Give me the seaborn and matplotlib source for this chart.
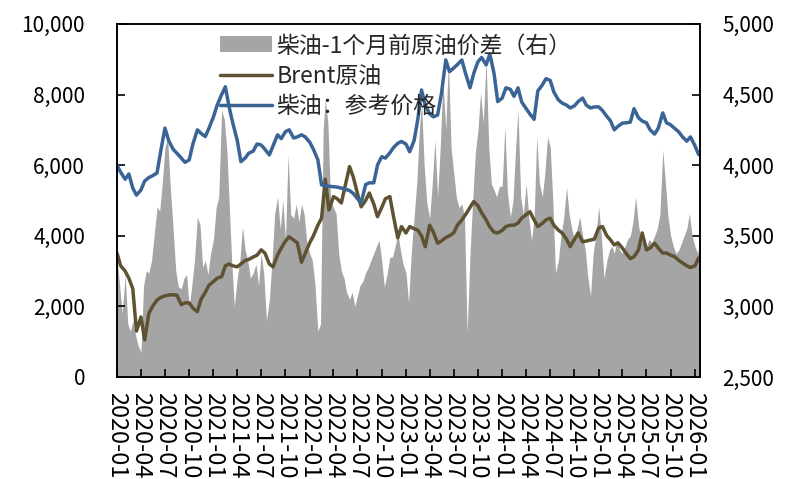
import pandas as pd
import matplotlib
matplotlib.use('Agg')
import matplotlib.pyplot as plt
import matplotlib.dates as mdates
import matplotlib.ticker as mticker
from matplotlib.patches import Patch
from matplotlib.lines import Line2D
import seaborn as sns

sns.set_theme(style='ticks')
plt.rcParams['font.family'] = ['Noto Sans CJK SC', 'DejaVu Sans']
plt.rcParams['axes.unicode_minus'] = False

BLUE = '#3A6496'
BROWN = '#5E5232'
GREY = '#A5A5A5'

label_spread = '柴油-1个月前原油价差（右）'
label_brent = 'Brent原油'
label_diesel = '柴油：参考价格'

## semi-monthly (1st, 15th) values, left axis
diesel = [
    6000, 5800, 5600, 5750, 5350, 5150, 5300, 5550, 5650, 5700, 5780, 6400, 7050, 6700, 6450, 6340, 6200, 6080, 6150, 6600, 7000, 6900, 6810, 7050,  # 2020
    7370, 7700, 8000, 8220, 7660, 7200, 6710, 6100, 6200, 6340, 6400, 6600, 6570, 6450, 6290, 6550, 6860, 6750, 6950, 7000, 6770, 6800, 6860, 6800,  # 2021
    6650, 6450, 6150, 5440, 5420, 5400, 5390, 5380, 5350, 5320, 5280, 5200, 5050, 4930, 5450, 5500, 5500, 6000, 6240, 6200, 6350, 6500, 6620, 6670,  # 2022
    6600, 6380, 6700, 7300, 8130, 7700, 7450, 7370, 7420, 8000, 8980, 8650, 8750, 8850, 8980, 8600, 8190, 8600, 8930, 9050, 8840, 9150, 8600, 7800,  # 2023
    7900, 8190, 8150, 7950, 8190, 7790, 7600, 7450, 7300, 8100, 8270, 8450, 8400, 8070, 7850, 7760, 7700, 7620, 7680, 7800, 7900, 7700, 7620, 7650,  # 2024
    7650, 7550, 7380, 7250, 7000, 7100, 7190, 7200, 7220, 7600, 7340, 7250, 7200, 7000, 6880, 7050, 7480, 7200, 7140, 7050, 6940, 6800, 6680, 6800,  # 2025
    6550, 6300,  # 2026
]
brent = [
    3510, 3150, 3000, 2800, 2500, 1300, 1700, 1050, 1800, 2000, 2180, 2250, 2300, 2320, 2330, 2320, 2050, 2100, 2100, 1950, 1850, 2200, 2400, 2600,  # 2020
    2700, 2800, 2840, 3150, 3200, 3150, 3120, 3200, 3300, 3330, 3400, 3450, 3600, 3510, 3200, 3120, 3450, 3650, 3850, 3970, 3880, 3800, 3250, 3500,  # 2021
    3800, 4000, 4300, 4500, 5600, 4730, 5110, 5050, 4930, 5400, 5960, 5670, 5200, 4820, 5000, 5210, 4900, 4540, 4800, 5050, 5110, 4540, 3940, 4260,  # 2022
    4080, 4260, 4200, 4160, 4000, 3690, 4300, 4100, 3790, 3850, 3950, 4000, 4080, 4300, 4450, 4600, 4800, 4970, 4850, 4650, 4450, 4250, 4100, 4080,  # 2023
    4150, 4260, 4300, 4300, 4360, 4500, 4600, 4680, 4450, 4260, 4350, 4450, 4500, 4300, 4160, 4080, 3900, 3690, 3900, 4080, 3830, 3850, 3880, 3900,  # 2024
    4220, 4260, 4000, 3880, 3740, 3800, 3650, 3500, 3350, 3410, 3600, 4080, 3600, 3650, 3790, 3650, 3510, 3510, 3450, 3410, 3300, 3230, 3150, 3100,  # 2025
    3150, 3370,  # 2026
]

## spread, 1st / 11th / 21st of each month, right axis
spread = [
    3350, 3150, 2950, 3225, 2875, 2825, 2900, 2800, 2725, 2675, 3150, 3250,  # 2020 Jan-Apr
    3238, 3325, 3500, 3705, 3675, 3875, 4125, 4200, 3850, 3550, 3250, 3140,  # 2020 May-Aug
    3125, 3200, 3225, 3000, 3150, 3325, 3633, 3575, 3275, 3325, 3225, 3375,  # 2020 Sep-Dec
    3475, 3700, 3775, 4390, 4325, 4100, 3750, 3325, 3000, 3200, 3325, 3563,  # 2021 Jan-Apr
    3400, 3325, 3200, 3238, 3300, 3150, 3375, 3225, 2900, 3050, 3325, 3650,  # 2021 May-Aug
    3775, 3550, 3750, 3475, 4075, 3650, 3625, 3725, 3600, 3725, 3650, 3450,  # 2021 Sep-Dec
    3375, 3325, 3150, 2825, 2875, 4250, 4463, 4300, 3750, 3700, 3658, 3375,  # 2022 Jan-Apr
    3250, 3200, 3100, 3050, 3100, 3000, 3075, 3150, 3175, 3238, 3275, 3325,  # 2022 May-Aug
    3375, 3425, 3468, 3325, 3138, 3225, 3350, 3350, 3425, 3520, 3400, 3300,  # 2022 Sep-Dec
    3238, 3025, 3375, 3633, 3875, 4250, 4440, 4000, 3733, 3625, 3875, 4178,  # 2023 Jan-Apr
    3775, 4125, 4603, 4250, 4750, 4125, 3950, 3775, 3700, 3725, 3633, 2813,  # 2023 May-Aug
    3375, 3750, 4085, 4250, 4513, 4300, 4745, 4125, 3868, 3825, 3775, 3850,  # 2023 Sep-Dec
    3850, 4275, 3800, 3633, 3750, 4125, 4390, 3775, 3650, 3868, 3625, 3468,  # 2024 Jan-Apr
    3625, 4200, 3875, 3775, 3950, 4200, 4130, 3750, 3238, 3325, 3500, 3625,  # 2024 May-Aug
    3845, 3650, 3550, 3468, 3550, 3633, 3500, 3400, 3200, 3075, 3375, 3500,  # 2024 Sep-Dec
    3705, 3500, 3200, 3325, 3400, 3425, 3375, 3475, 3400, 3375, 3425, 3475,  # 2025 Jan-Apr
    3500, 3600, 3775, 3575, 3450, 3468, 3425, 3475, 3450, 3500, 3550, 3650,  # 2025 May-Aug
    4108, 3875, 3633, 3500, 3425, 3375, 3400, 3450, 3500, 3550, 3658, 3500,  # 2025 Sep-Dec
    3425, 3375, 3475,  # 2026 Jan
]

line_dates = pd.to_datetime([pd.Timestamp(y, m, d) for y in range(2020, 2027)
                             for m in range(1, 13) for d in (1, 15)][:len(diesel)])
spread_dates = pd.to_datetime([pd.Timestamp(y, m, d) for y in range(2020, 2027)
                               for m in range(1, 13) for d in (1, 11, 21)][:len(spread)])

fig = plt.figure(figsize=(7.85, 4.79), dpi=100)
ax = fig.add_axes([0.149, 0.213, 0.743, 0.737])
ax2 = ax.twinx()

## spread area on right axis, behind lines
ax2.fill_between(spread_dates, spread, 2500, color=GREY, linewidth=0)
ax.set_zorder(ax2.get_zorder() + 1)
ax.patch.set_visible(False)

sns.lineplot(x=line_dates, y=brent, ax=ax, color=BROWN, linewidth=2.5)
sns.lineplot(x=line_dates, y=diesel, ax=ax, color=BLUE, linewidth=2.5)

ax.set_xlim(spread_dates[0], spread_dates[-1])
ax.set_ylim(0, 10000)
ax2.set_ylim(2500, 5000)
ax.set_yticks(range(0, 10001, 2000))
ax2.set_yticks(range(2500, 5001, 500))
fmt = mticker.StrMethodFormatter('{x:,.0f}')
ax.yaxis.set_major_formatter(fmt)
ax2.yaxis.set_major_formatter(fmt)

ax.xaxis.set_major_locator(mdates.MonthLocator(bymonth=[1, 4, 7, 10]))
ax.xaxis.set_major_formatter(mdates.DateFormatter('%Y-%m'))
ax.set_xlabel('')
ax.set_ylabel('')

ax.tick_params(axis='x', direction='in', length=6, width=1.2, labelsize=17, pad=11, colors='black')
ax.tick_params(axis='y', direction='in', length=6, width=1.2, labelsize=15, pad=23, colors='black')
ax2.tick_params(axis='y', direction='in', length=6, width=1.2, labelsize=15, pad=16, colors='black')
for lbl in ax.get_xticklabels():
    lbl.set_rotation(-90)
    lbl.set_ha('center')
    lbl.set_va('top')

for a in (ax, ax2):
    for s in a.spines.values():
        s.set_color('black')
        s.set_linewidth(1.2)
        s.set_visible(True)

if ax.get_legend() is not None:
    ax.get_legend().remove()
handles = [Patch(facecolor=GREY, edgecolor='none'),
           Line2D([], [], color=BROWN, linewidth=2.5),
           Line2D([], [], color=BLUE, linewidth=2.5)]
ax.legend(handles, [label_spread, label_brent, label_diesel], loc='upper left',
          bbox_to_anchor=(0.165, 0.99), frameon=False, fontsize=16.5, handlelength=2.25,
          handletextpad=0.2, labelspacing=0.32, borderpad=0.3, borderaxespad=0)

fig.savefig('out.png', dpi=100)
